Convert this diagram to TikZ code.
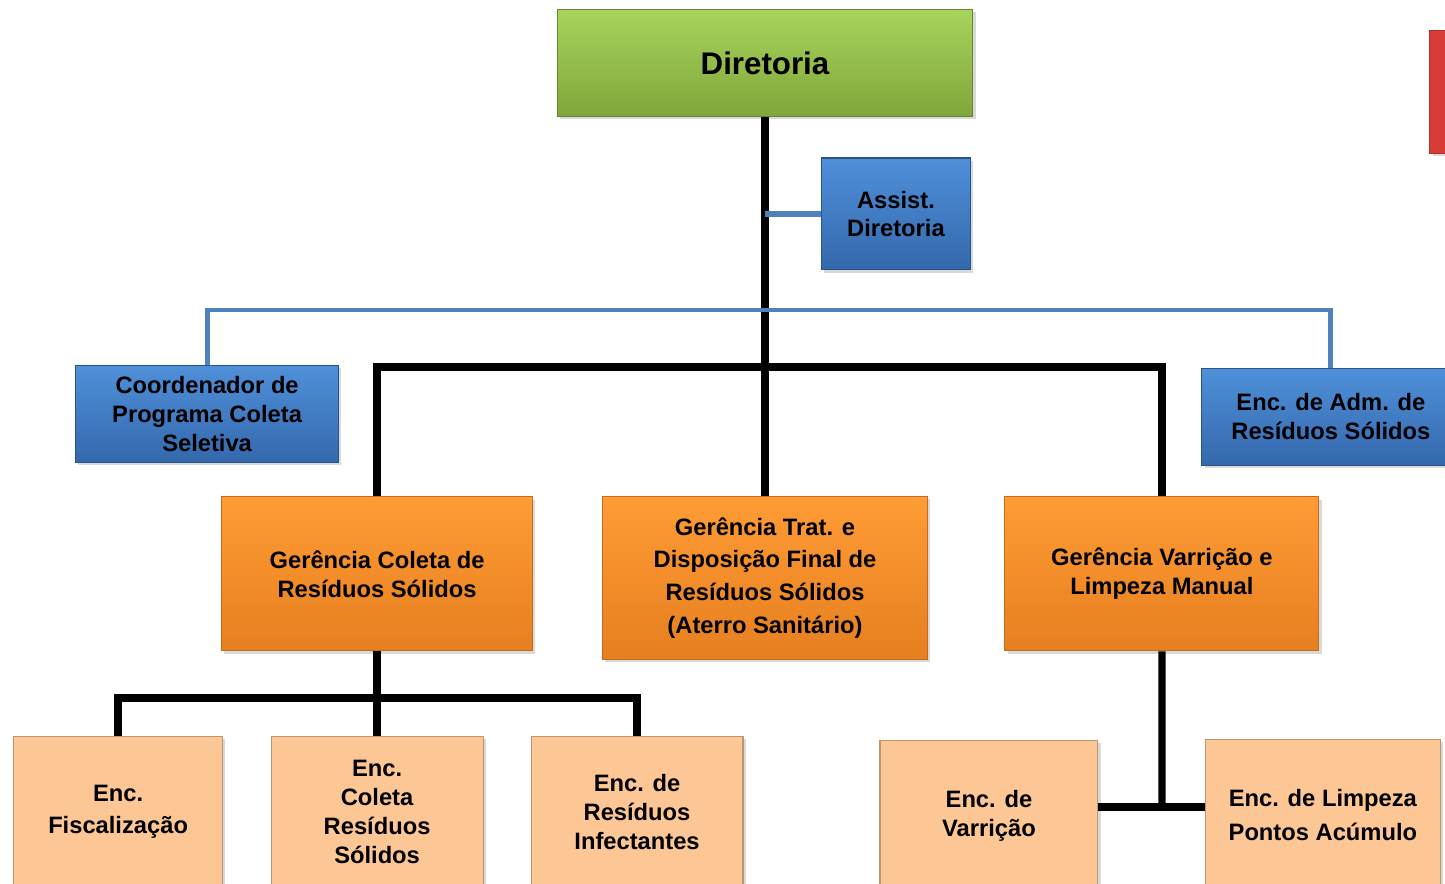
\documentclass[tikz,border=0pt]{standalone}
\usepackage{fontspec}
\setmainfont{Liberation Sans}
\usetikzlibrary{positioning, shadows}

\definecolor{greenTop}{HTML}{A8D45C}
\definecolor{greenBot}{HTML}{7FA63A}
\definecolor{blueTop}{HTML}{4F90D9}
\definecolor{blueBot}{HTML}{3468AC}
\definecolor{orangeTop}{HTML}{FF9C35}
\definecolor{orangeBot}{HTML}{E67F20}
\definecolor{peach}{HTML}{FCC795}
\definecolor{redBox}{HTML}{D73B35}
\definecolor{linkBlue}{HTML}{4F81BD}

\tikzset{
  box/.style={rectangle, align=center, inner sep=2pt, line width=0.6pt,
    font=\bfseries\fontsize{13.5}{16.4}\selectfont,
    drop shadow={opacity=0.3, shadow xshift=1.5pt, shadow yshift=-1.5pt}},
  topbox/.style={box, draw=greenBot!80!black, top color=greenTop, bottom color=greenBot,
    font=\bfseries\fontsize{17.8}{20}\selectfont},
  bluebox/.style={box, draw=blueBot!80!black, top color=blueTop, bottom color=blueBot},
  orangebox/.style={box, draw=orangeBot!85!black, top color=orangeTop, bottom color=orangeBot},
  peachbox/.style={box, draw=peach!75!black, fill=peach, minimum height=3cm},
  trunk/.style={line width=4.2pt, black},
  bluelink/.style={line width=2.8pt, linkBlue}
}

\begin{document}
\begin{tikzpicture}[x=0.02cm, y=-0.02cm, on grid]
  \useasboundingbox (0,0) rectangle (1445,884);
  % top level
  \node[topbox, minimum width=8.32cm, minimum height=2.14cm] (dir) at (765,63) {Diretoria};
  \node[bluebox, minimum width=2.98cm, minimum height=2.24cm] (asst) [below right=3.02cm and 2.62cm of dir] {Assist.\\Diretoria};
  \node[box, draw=redBox!80!black, fill=redBox, minimum width=2.8cm, minimum height=2.46cm] (red) [below right=0.58cm and 14.7cm of dir] {};
  % gerencias
  \node[orangebox, minimum width=6.5cm, minimum height=3.26cm, font=\bfseries\fontsize{13.5}{18.7}\selectfont] (g_2) [below=10.3cm of dir] {Gerência Trat. e\\Disposição Final de\\Resíduos Sólidos\\(Aterro Sanitário)};
  \node[orangebox, minimum width=6.22cm, minimum height=3.08cm] (g_1) [above left=0.08cm and 7.76cm of g_2] {Gerência Coleta de\\Resíduos Sólidos};
  \node[orangebox, minimum width=6.28cm, minimum height=3.08cm] (g_3) [above right=0.08cm and 7.94cm of g_2] {Gerência Varrição e\\Limpeza Manual};
  % coordenacao
  \node[bluebox, minimum width=5.26cm, minimum height=1.94cm] (coord) [above left=3.2cm and 3.4cm of g_1] {Coordenador de\\Programa Coleta\\Seletiva};
  \node[bluebox, minimum width=5.16cm, minimum height=1.94cm] (adm) [above right=3.14cm and 3.38cm of g_3] {Enc. de Adm. de\\Resíduos Sólidos};
  % encarregados
  \node[peachbox, minimum width=4.24cm] (e_2) [below=4.76cm of g_1] {Enc.\\Coleta\\Resíduos\\Sólidos};
  \node[peachbox, minimum width=4.18cm, font=\bfseries\fontsize{13.5}{18.2}\selectfont] (e_1) [left=5.18cm of e_2] {Enc.\\Fiscalização};
  \node[peachbox, minimum width=4.24cm] (e_3) [right=5.2cm of e_2] {Enc. de\\Resíduos\\Infectantes};
  \node[peachbox, minimum width=4.36cm] (e_4) [below left=4.84cm and 3.46cm of g_3] {Enc. de\\Varrição};
  \node[peachbox, minimum width=4.7cm, font=\bfseries\fontsize{13.5}{19.2}\selectfont] (e_5) [below right=4.82cm and 3.22cm of g_3] {Enc. de Limpeza\\Pontos Acúmulo};

  \coordinate (blue_top) at (765,310);
  \coordinate (bar) at (765,367);
  \coordinate (bar1) at (377,698);
  \coordinate (bar2) at (1162,807);

  \draw[trunk] (dir) -- (g_2);
  \draw[bluelink, line width=3.6pt] (asst) -- (asst -| dir);
  \draw[bluelink] (coord) |- (blue_top) -| (adm);
  \draw[trunk] (g_1) |- (bar) -| (g_3);
  \draw[trunk] (g_1) -- (e_2);
  \draw[trunk] (e_1) |- (bar1) -| (e_3);
  \draw[trunk] (g_3) -- (bar2);
  \draw[trunk] (e_4.east |- bar2) -- (e_5.west |- bar2);
\end{tikzpicture}
\end{document}
